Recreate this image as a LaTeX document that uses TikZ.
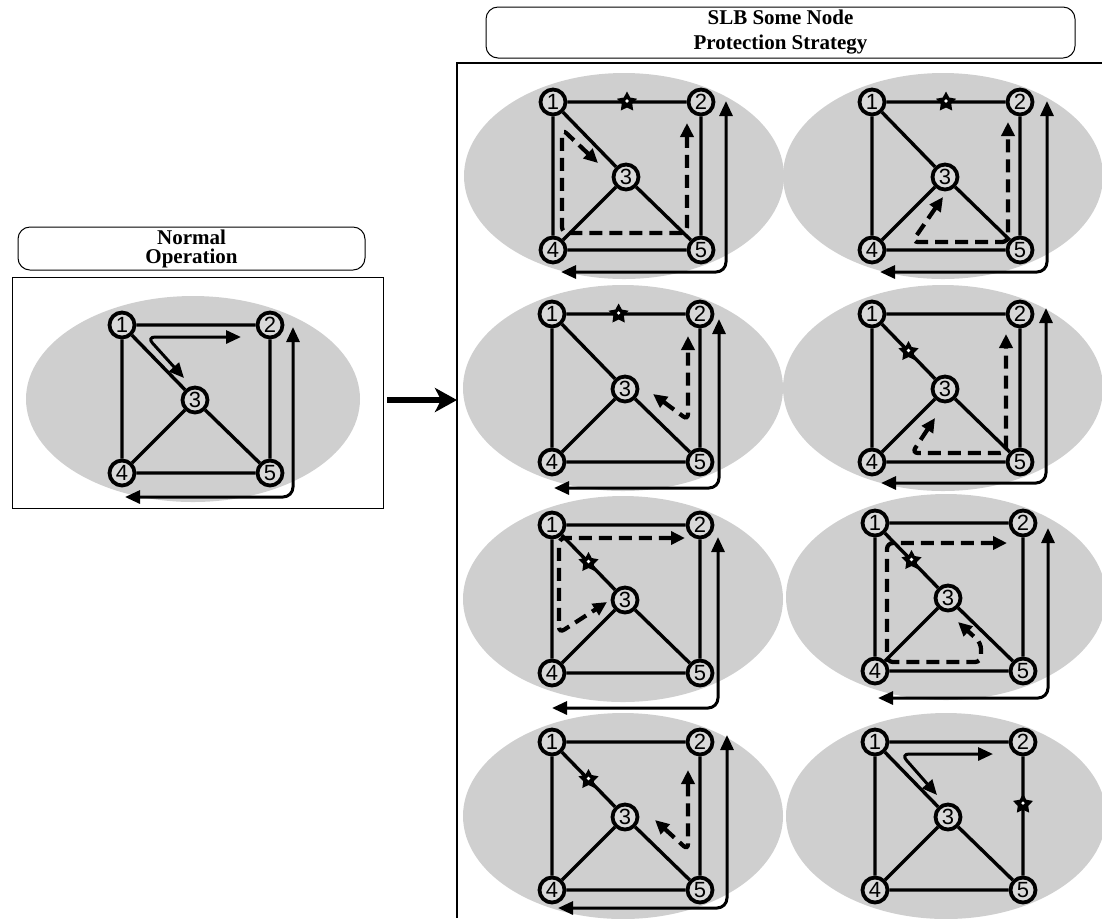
\documentclass[tikz,border=0pt]{standalone}
\usepackage{fontspec}
\setmainfont{Liberation Serif}
\newfontfamily\digitfont{Liberation Sans}
\usetikzlibrary{arrows.meta,shapes.geometric,calc}

\tikzset{
	netnode/.style={circle, draw, line width=1.9pt, fill=black!15, inner sep=0pt, minimum size=12.5pt, font=\digitfont\fontsize{11}{11}\selectfont},
	link/.style={line width=1.7pt},
	route/.style={line width=1.5pt, rounded corners=5pt, {Triangle[length=7.5pt,width=6.5pt]}-{Triangle[length=7.5pt,width=6.5pt]}},
	backup/.style={line width=2.1pt, rounded corners=3pt, dash pattern=on 6.5pt off 3.5pt, {Triangle[length=7pt,width=6.5pt]}-{Triangle[length=7pt,width=6.5pt]}},
	fault/.style={star, star points=5, star point ratio=1.9, fill=black, inner sep=0pt, minimum size=10.5pt, path picture={\fill[white] (path picture bounding box.center) circle (0.9pt);}},
	cloud/.style={fill=black!19},
	headbox/.style={draw, line width=0.5pt, rounded corners=6pt, align=center, inner ysep=1pt, font=\bfseries\fontsize{10.5}{9.5}\selectfont},
}

% one five node mesh: #1 prefix, #2 position of node 1, #3 x radius of the cloud, #4 extras
\newcommand{\meshnet}[4]{%
	\begin{scope}[shift={#2}]
		\fill[cloud] (71,74) ellipse (#3 and 51.5pt);
		\node[netnode] (#1-1) at (0,0) {1};
		\node[netnode] (#1-2) at (148,0) {2};
		\node[netnode] (#1-3) at (73,75) {3};
		\node[netnode] (#1-4) at (0,148) {4};
		\node[netnode] (#1-5) at (148,148) {5};
		\draw[link] (#1-1) -- (#1-2) (#1-1) -- (#1-4) (#1-1) -- (#1-3) (#1-2) -- (#1-5)
			(#1-3) -- (#1-4) (#1-3) -- (#1-5) (#1-4) -- (#1-5);
		#4
	\end{scope}}

\begin{document}
\begin{tikzpicture}[x=0.5pt, y=-0.5pt]
	\useasboundingbox (0,0) rectangle (1102,918);

	% normal operation
	\node[headbox, minimum width=173.5pt, minimum height=21.5pt] (nrmtitle) at (191.5,248.5) {Normal\\Operation};
	\draw[line width=0.5pt] (12,277) rectangle (383,508);
	\meshnet{nrm}{(122,325)}{83.5pt}{
		\draw[route] (171,2) -- (171,172) -- (3,172);
		\draw[route, rounded corners=4pt] (62,53) -- (25,12) -- (119,12);
	}

	\coordinate (gapl) at (387,400);
	\coordinate (gapr) at (457,400);
	\draw[line width=2.6pt, -{Stealth[length=11pt,width=12pt,inset=3pt]}] (gapl) -- (gapr);

	% protection strategy
	\node[headbox, minimum width=294.5pt, minimum height=25.5pt, font=\bfseries\fontsize{10.5}{12.5}\selectfont] (slbtitle) at (780.5,32.5) {SLB Some Node\\Protection Strategy};
	\draw[line width=0.6pt] (1102,63) -- (457,63) -- (457,918);

	\meshnet{sa}{(553,102)}{80pt}{
		\node[fault] (sa-x) at ($(sa-1)!.5!(sa-2)$) {};
		\draw[route] (173,-1) -- (173,170) -- (8,170);
		\draw[backup] (45,61) -- (9,27) -- (9,131) -- (134,131) -- (134,21);
	}
	\meshnet{sb}{(872,102)}{80pt}{
		\node[fault] (sb-x) at ($(sb-1)!.5!(sb-2)$) {};
		\draw[route] (175,-1) -- (175,170) -- (8,170);
		\draw[backup] (71,95) -- (40,140) -- (136,140) -- (136,20);
	}
	\meshnet{sc}{(552,314)}{80pt}{
		\node[fault] (sc-x) at ($(sc-1)!.45!(sc-2)$) {};
		\draw[route] (167,5) -- (167,174) -- (2,174);
		\draw[backup] (101,80) -- (136,106) -- (136,22);
	}
	\meshnet{sd}{(872,314)}{80pt}{
		\node[fault] (sd-x) at ($(sd-1)!.5!(sd-3)$) {};
		\draw[route] (174,-6) -- (174,169) -- (9,169);
		\draw[backup] (63,104) -- (40,139) -- (134,139) -- (134,20);
	}
	\meshnet{se}{(552,525)}{80pt}{
		\node[fault] (se-x) at ($(se-1)!.5!(se-3)$) {};
		\draw[route] (166,12) -- (166,183) -- (0,183);
		\draw[backup] (133,13) -- (7,13) -- (7,108) -- (55,77);
	}
	\meshnet{sf}{(875,523)}{80pt}{
		\node[fault] (sf-x) at ($(sf-1)!.5!(sf-3)$) {};
		\draw[route] (173,5) -- (173,175) -- (3,175);
		\draw[backup] (132,20) -- (12,20) -- (12,139) -- (106,139) -- (106,120) -- (83,99);
	}
	\meshnet{sg}{(552,742)}{80pt}{
		\node[fault] (sg-x) at ($(sg-1)!.5!(sg-3)$) {};
		\draw[route] (175,-7) -- (175,166) -- (6,166);
		\draw[backup] (103,78) -- (136,108) -- (136,28);
	}
	\meshnet{sh}{(875,742)}{80pt}{
		\node[fault] (sh-x) at ($(sh-2)!.42!(sh-5)$) {};
		\draw[route, rounded corners=4pt] (62,53) -- (26,12) -- (118,12);
	}
\end{tikzpicture}
\end{document}
